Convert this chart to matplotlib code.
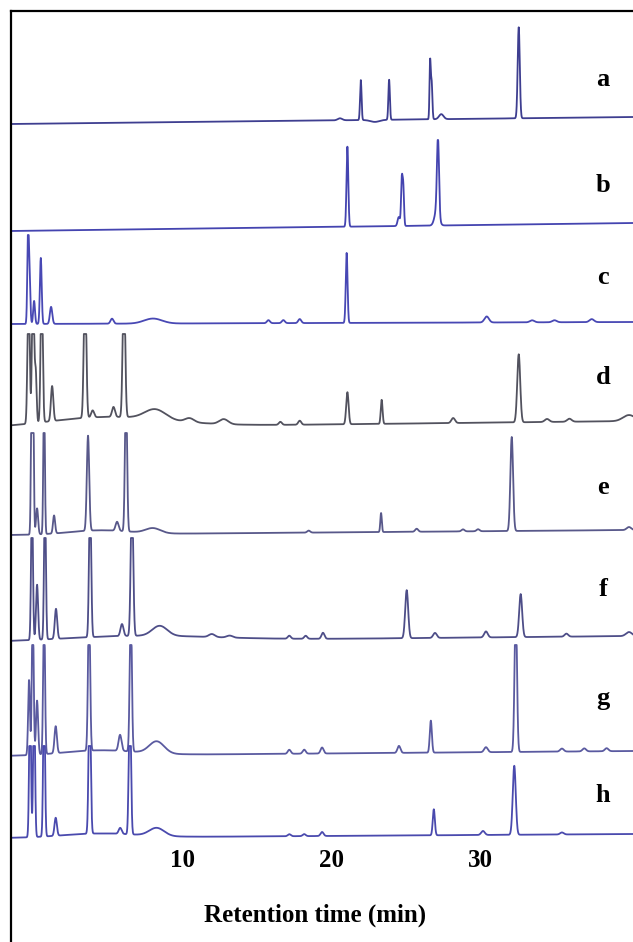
import numpy as np
import matplotlib.pyplot as plt
from matplotlib.lines import Line2D

# retention time grid (min)
t = np.arange(-1.5, 40.3, 0.01)

labels = ["a", "b", "c", "d", "e", "f", "g", "h"]

# peak tables: retention time (min), height, width (min)
a_rt = [20.6, 22.0, 22.95, 23.9, 26.65, 26.75, 27.4, 32.6]
a_h = [2, 40, -2, 40, 55, 38, 5, 91]
a_w = [0.15, 0.05, 0.3, 0.05, 0.04, 0.05, 0.15, 0.07]

b_rt = [21.1, 24.55, 24.75, 24.85, 27.1, 27.18]
b_h = [80, 9, 45, 38, 15, 75]
b_w = [0.06, 0.08, 0.05, 0.05, 0.15, 0.07]

c_rt = [-0.34, -0.25, 0.07, 0.52, 1.21, 5.3, 8.05, 15.8, 16.8, 17.9, 21.05, 30.45, 33.5, 35.0, 37.5]
c_h = [80, 50, 23, 66, 17, 5, 5, 3, 3, 4, 70, 6, 2, 2, 3]
c_w = [0.05, 0.06, 0.06, 0.06, 0.08, 0.1, 0.6, 0.1, 0.1, 0.1, 0.06, 0.15, 0.15, 0.15, 0.15]

d_rt = [-0.3, 0.0, 0.18, 0.58, 1.28, 3.49, 4.0, 5.0, 5.4, 6.1, 8.2, 10.5, 12.8, 16.6,
        17.9, 21.1, 23.4, 28.2, 32.6, 34.5, 36.0, 40.0]
d_h = [150, 150, 50, 150, 35, 150, 7, 10, 10, 150, 10, 4, 5, 3, 4, 32, 24, 5, 68, 3, 3, 6]
d_w = [0.07, 0.07, 0.06, 0.07, 0.08, 0.08, 0.1, 4.0, 0.1, 0.08, 0.7, 0.3, 0.3, 0.1, 0.1,
       0.08, 0.06, 0.12, 0.1, 0.15, 0.15, 0.4]

e_rt = [-0.09, 0.0, 0.27, 0.74, 1.41, 3.69, 4.5, 5.64, 6.24, 8.05, 18.5, 23.36, 25.75,
        28.86, 29.87, 32.13, 40.0]
e_h = [150, 150, 26, 150, 18, 95, 4, 9, 150, 5, 2, 19, 3, 2, 2, 94, 3]
e_w = [0.05, 0.05, 0.07, 0.05, 0.07, 0.08, 2.0, 0.1, 0.07, 0.5, 0.1, 0.05, 0.1, 0.1, 0.1,
       0.09, 0.15]

f_rt = [-0.07, 0.27, 0.8, 1.54, 3.83, 5.97, 6.64, 7.0, 8.5, 12.0, 13.2, 17.2, 18.3, 19.46,
        25.08, 26.98, 30.4, 32.73, 35.8, 40.0]
f_h = [150, 55, 150, 30, 150, 12, 150, 5, 10, 3, 2, 3, 3, 6, 48, 5, 6, 43, 3, 4]
f_w = [0.06, 0.07, 0.06, 0.08, 0.07, 0.1, 0.08, 5.0, 0.5, 0.2, 0.2, 0.1, 0.1, 0.1,
       0.1, 0.12, 0.12, 0.1, 0.12, 0.2]

g_rt = [-0.27, -0.02, 0.27, 0.74, 1.52, 3.76, 4.5, 5.84, 6.56, 8.3, 17.2, 18.2, 19.4,
        24.56, 26.7, 30.4, 32.4, 35.5, 37.0, 38.5]
g_h = [75, 150, 54, 150, 27, 150, 5, 16, 150, 12, 4, 4, 6, 7, 32, 5, 150, 3, 3, 3]
g_w = [0.06, 0.06, 0.07, 0.06, 0.08, 0.07, 2.5, 0.1, 0.07, 0.5, 0.1, 0.1, 0.1,
       0.1, 0.07, 0.12, 0.08, 0.12, 0.12, 0.12]

h_rt = [-0.2, 0.07, 0.74, 1.52, 3.8, 4.5, 5.85, 6.5, 8.3, 17.2, 18.2, 19.4, 26.9,
        30.2, 32.3, 35.5]
h_h = [150, 150, 150, 18, 150, 4, 6, 150, 8, 2, 2, 4, 26, 4, 69, 2]
h_w = [0.06, 0.06, 0.06, 0.08, 0.07, 2.5, 0.1, 0.07, 0.5, 0.1, 0.1, 0.1, 0.07,
       0.12, 0.1, 0.12]

# baseline rise from start to end of run
drift = [7, 8, 2, 7, 5, 6, 5, 4]

peaks = [(a_rt, a_h, a_w), (b_rt, b_h, b_w), (c_rt, c_h, c_w), (d_rt, d_h, d_w),
         (e_rt, e_h, e_w), (f_rt, f_h, f_w), (g_rt, g_h, g_w), (h_rt, h_h, h_w)]

# layout: baseline (end of run) and clip level, in pixel-like units from the axes bottom
AX_BOTTOM = 845
base_px = [117, 223, 322, 421, 530, 636, 751, 834]
top_px = [20, 140, 235, 334, 433, 538, 645, 746]
colors = ["#3e3e90", "#4444b0", "#4848b4", "#52525e", "#58588a", "#4e4e88", "#5a5aa0", "#4a4aae"]
label_y = [80, 186, 278, 378, 488, 590, 698, 796]

W, H = 633, 942
fig = plt.figure(figsize=(W / 100, H / 100), dpi=100)
ax = fig.add_axes([11 / W, (H - AX_BOTTOM) / H, (W - 11) / W, (AX_BOTTOM - 15) / H])

for (rt, hh, ww), d, b, top, col in zip(peaks, drift, base_px, top_px, colors):
    sig = np.zeros_like(t)
    for r, h, w in zip(rt, hh, ww):
        sig += h * np.exp(-0.5 * ((t - r) / w) ** 2)
    sig += d * (t - t[-1]) / (t[-1] - t[0])
    sig = np.minimum(sig, b - top)
    ax.plot(t, (AX_BOTTOM - b) + sig, color=col, lw=1.3)

ax.set_xlim(-1.48, 40.27)
ax.set_ylim(0, AX_BOTTOM - 15)
for s in ax.spines.values():
    s.set_visible(False)
ax.set_yticks([])
ax.set_xticks([10, 20, 30])
ax.tick_params(axis="x", length=0, pad=3)
for lab in ax.get_xticklabels():
    lab.set_fontfamily("Liberation Serif")
    lab.set_fontweight("bold")
    lab.set_fontsize(18)

for lab, y in zip(labels, label_y):
    fig.text(603 / W, 1 - y / H, lab, ha="center", va="center",
             fontfamily="Liberation Serif", fontweight="bold", fontsize=19)

fig.text(315 / W, 1 - 915 / H, "Retention time (min)", ha="center", va="center",
         fontfamily="Liberation Serif", fontweight="bold", fontsize=18)

# border around the figure panel (left and top edges visible)
fig.add_artist(Line2D([11 / W, 11 / W], [0, 1 - 11 / H], transform=fig.transFigure,
                      color="black", lw=1.6))
fig.add_artist(Line2D([11 / W, 1], [1 - 11 / H, 1 - 11 / H], transform=fig.transFigure,
                      color="black", lw=1.6))

fig.savefig("out.png", dpi=100)
